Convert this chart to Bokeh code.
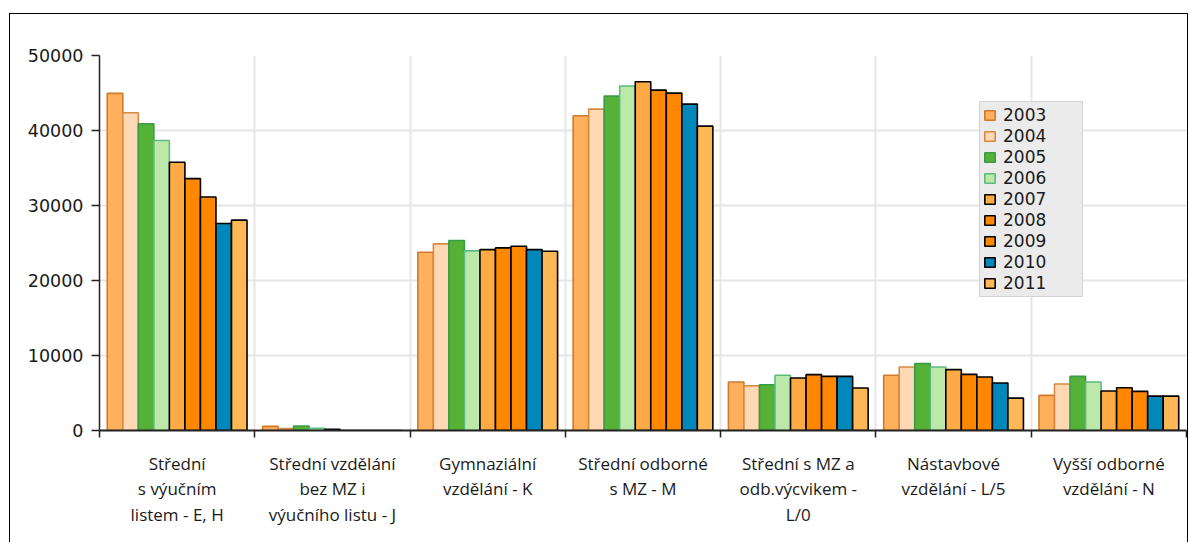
import numpy as np
from bokeh.plotting import figure
from bokeh.models import FixedTicker, Legend, LegendItem
from bokeh.embed import file_html
from bokeh.resources import INLINE

categories = [
    "Střední\ns výučním\nlistem - E, H",
    "Střední vzdělání\nbez MZ i\nvýučního listu - J",
    "Gymnaziální\nvzdělání - K",
    "Střední odborné\ns MZ - M",
    "Střední s MZ a\nodb.výcvikem -\nL/0",
    "Nástavbové\nvzdělání - L/5",
    "Vyšší odborné\nvzdělání - N",
]
years = ["2003", "2004", "2005", "2006", "2007", "2008", "2009", "2010", "2011"]

v2003 = [44950, 550, 23770, 41960, 6460, 7360, 4680]
v2004 = [42370, 250, 24880, 42850, 5970, 8470, 6200]
v2005 = [40900, 600, 25330, 44590, 6110, 8920, 7220]
v2006 = [38660, 300, 23950, 45930, 7360, 8470, 6460]
v2007 = [35760, 150, 24120, 46510, 7000, 8120, 5260]
v2008 = [33580, 0, 24350, 45390, 7450, 7490, 5710]
v2009 = [31130, 0, 24570, 44990, 7220, 7130, 5220]
v2010 = [27600, 0, 24120, 43520, 7220, 6330, 4590]
v2011 = [28050, 0, 23900, 40580, 5660, 4320, 4590]
series = [v2003, v2004, v2005, v2006, v2007, v2008, v2009, v2010, v2011]

fills = ["#FFB05C", "#FFD9B3", "#55B236", "#BCE9AA", "#FFAA44", "#FF8800", "#FF8800", "#0088BB", "#FFB855"]
lines = ["#D07A2C", "#D48A40", "#3A9C48", "#5DBB80", "#000000", "#000000", "#000000", "#000000", "#000000"]

p = figure(width=1179, height=529, x_range=(-0.5, 6.5), y_range=(0, 50000),
           output_backend="svg", toolbar_location=None,
           min_border_left=89, min_border_right=3, min_border_top=41, min_border_bottom=113)
p.margin = (13, 0, 0, 9)
p.styles = {"border-left": "1px solid black", "border-top": "1px solid black",
            "border-right": "1px solid black"}
p.outline_line_color = None
p.background_fill_color = "white"
p.border_fill_color = "white"

n = len(years)
bw = 0.1
centers = np.arange(len(categories))
items = []
for i, (yr, vals) in enumerate(zip(years, series)):
    xs = centers + (i - (n - 1) / 2) * bw
    r = p.vbar(x=xs, top=vals, width=bw, fill_color=fills[i], line_color=lines[i], line_width=1.6)
    items.append(LegendItem(label=yr, renderers=[r]))

# axes
p.xaxis.ticker = FixedTicker(ticks=list(centers), minor_ticks=[c - 0.5 for c in range(len(categories) + 1)])
p.xaxis.major_label_overrides = {int(c): categories[c] for c in centers}
p.xaxis.major_tick_line_color = None
p.xaxis.minor_tick_out = 7
p.xaxis.minor_tick_in = 0
p.xaxis.minor_tick_line_color = "#222222"
p.xaxis.minor_tick_line_width = 1.5
p.xaxis.axis_line_color = "#222222"
p.xaxis.axis_line_width = 2
p.xaxis.major_label_text_font = "Open Sans"
p.xaxis.major_label_text_font_size = "17px"
p.xaxis.major_label_text_color = "#1a1a1a"
p.xaxis.major_label_standoff = 14
p.xaxis.major_label_text_line_height = 1.12

p.yaxis.ticker = FixedTicker(ticks=[0, 10000, 20000, 30000, 40000, 50000])
p.yaxis.major_tick_out = 8
p.yaxis.major_tick_in = 0
p.yaxis.major_tick_line_color = "#222222"
p.yaxis.major_tick_line_width = 1.5
p.yaxis.minor_tick_line_color = None
p.yaxis.axis_line_color = "#222222"
p.yaxis.axis_line_width = 1.5
p.yaxis.major_label_text_font = "DejaVu Sans"
p.yaxis.major_label_text_font_size = "17.5px"
p.yaxis.major_label_text_color = "#1a1a1a"
p.yaxis.major_label_standoff = 8

p.xgrid.ticker = FixedTicker(ticks=[c - 0.5 for c in range(len(categories) + 1)])
p.xgrid.grid_line_color = "#E6E6E6"
p.xgrid.grid_line_width = 2
p.ygrid.grid_line_color = "#E6E6E6"
p.ygrid.grid_line_width = 2

legend = Legend(items=items, location=(880, 133))
legend.background_fill_color = "#EBEBEB"
legend.background_fill_alpha = 1
legend.border_line_color = "#BBBBBB"
legend.border_line_width = 1
legend.label_text_font = "DejaVu Sans"
legend.label_text_font_size = "17px"
legend.label_text_color = "#1a1a1a"
legend.label_height = 20
legend.glyph_height = 12
legend.glyph_width = 13
legend.spacing = 1
legend.padding = 3
legend.margin = 0
legend.label_standoff = 7
legend.label_width = 76
p.add_layout(legend)

open("out.html", "w").write(file_html(p, INLINE))
